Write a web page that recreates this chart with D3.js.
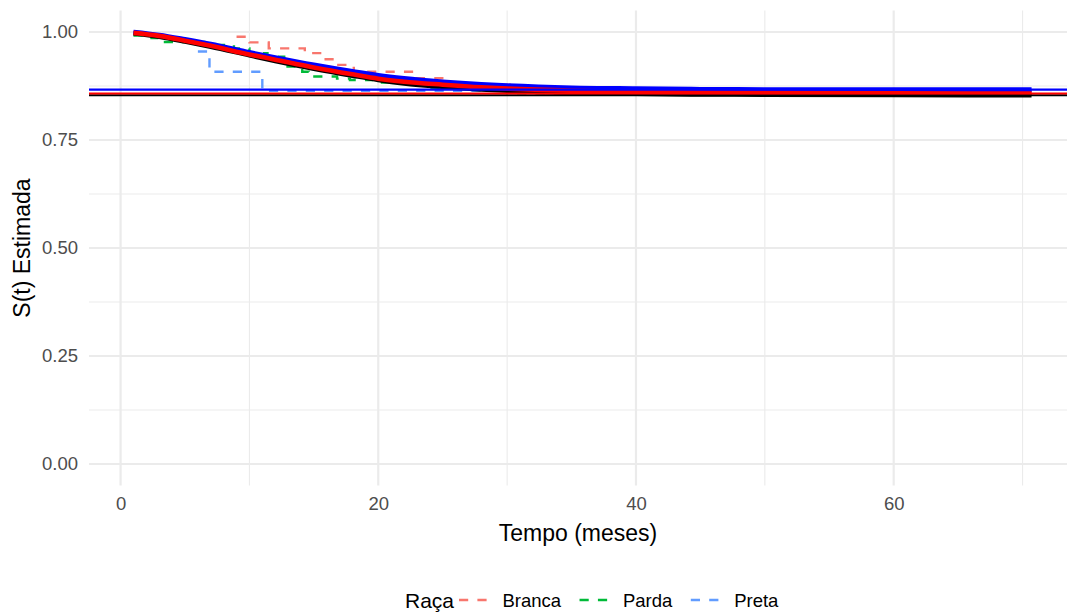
<!DOCTYPE html>
<html>
<head>
<meta charset="utf-8">
<script src="https://cdn.jsdelivr.net/npm/d3@7"></script>
<style>
  body { margin: 0; background: #fff; }
  svg text { font-family: "Liberation Sans", Arial, Helvetica, sans-serif; }
</style>
</head>
<body>
<svg id="chart" width="1072" height="615"></svg>
<script>
// axis ticks
var xTicks = [0, 20, 40, 60];
var xMinor = [10, 30, 50, 70];
var yTicks = [0, 0.25, 0.5, 0.75, 1];
var yMinor = [0.125, 0.375, 0.625, 0.875];

// Kaplan-Meier by group
var grupos = ["Branca", "Parda", "Preta"];
var coresGrupo = ["#F8766D", "#00BA38", "#619CFF"];
var tempoBranca = [9.0, 10.0, 11.5, 14.3, 15.6, 16.9, 18.1, 22.8, 25.5, 30.2, 70.7];
var survBranca  = [0.989, 0.976, 0.962, 0.951, 0.937, 0.924, 0.908, 0.893, 0.878, 0.860, 0.860];
var tempoParda = [1.0, 2.4, 3.0, 6.5, 8.8, 10.0, 11.4, 12.7, 14.1, 14.6, 16.8, 17.8, 19.6, 24.0, 30.0, 70.7];
var survParda  = [0.992, 0.986, 0.977, 0.970, 0.962, 0.951, 0.943, 0.920, 0.908, 0.897, 0.892, 0.889, 0.883, 0.870, 0.858, 0.858];
var tempoPreta = [6.0, 6.9, 11.0, 70.7];
var survPreta  = [0.955, 0.908, 0.864, 0.864];

// fitted curves
var tempoAjuste = [1, 3, 5, 7, 10, 12, 15, 18, 20, 22, 25, 28, 30, 35, 40, 45, 50, 60, 70.7];
var ajustePreto = [0.997, 0.989, 0.978, 0.966, 0.946, 0.933, 0.915, 0.899, 0.889, 0.881, 0.873, 0.867, 0.864, 0.859, 0.857, 0.8555, 0.855, 0.854, 0.8535];
var ajusteAzul  = [1.000, 0.993, 0.983, 0.972, 0.953, 0.941, 0.924, 0.909, 0.900, 0.893, 0.885, 0.879, 0.876, 0.871, 0.869, 0.8675, 0.867, 0.8667, 0.8665];
var ajusteVerm  = [0.998, 0.991, 0.980, 0.968, 0.948, 0.936, 0.918, 0.902, 0.892, 0.885, 0.878, 0.872, 0.869, 0.864, 0.861, 0.860, 0.859, 0.858, 0.8575];

// cure fraction reference lines
var platos = [0.8535, 0.8665, 0.8575];
var coresPlato = ["#000000", "#0000FF", "#FF0000"];

(function() {
    var svg = d3.select("#chart");
    var pLeft = 89, pRight = 1067, pTop = 10.4, pBottom = 485.6;

    var x = d3.scaleLinear().domain([-2.45, 73.45]).range([pLeft, pRight]);
    var y = d3.scaleLinear().domain([-0.05, 1.05]).range([pBottom, pTop]);

    // grid
    function hGrid(vals, w) {
        svg.append("g").selectAll("line").data(vals).enter().append("line")
            .attr("x1", pLeft).attr("x2", pRight)
            .attr("y1", function(d){return y(d)}).attr("y2", function(d){return y(d)})
            .attr("stroke", "#EBEBEB").attr("stroke-width", w);
    }
    function vGrid(vals, w) {
        svg.append("g").selectAll("line").data(vals).enter().append("line")
            .attr("y1", pTop).attr("y2", pBottom)
            .attr("x1", function(d){return x(d)}).attr("x2", function(d){return x(d)})
            .attr("stroke", "#EBEBEB").attr("stroke-width", w);
    }
    hGrid(yMinor, 1.1); vGrid(xMinor, 1.1);
    hGrid(yTicks, 2.2); vGrid(xTicks, 2.2);

    // axes (labels only, as in theme_minimal)
    var yAxis = svg.append("g").attr("transform", "translate(" + (pLeft - 11) + ",0)")
        .call(d3.axisLeft(y).tickValues(yTicks).tickFormat(d3.format(".2f")).tickSize(0).tickPadding(0));
    var xAxis = svg.append("g").attr("transform", "translate(0," + (pBottom + 11) + ")")
        .call(d3.axisBottom(x).tickValues(xTicks).tickSize(0).tickPadding(0));
    [xAxis, yAxis].forEach(function(a){
        a.select(".domain").remove();
        a.selectAll("text").attr("fill", "#4D4D4D").style("font-size", "18.5px")
            .style("font-family", "'Liberation Sans', Arial, sans-serif");
    });
    xAxis.selectAll("text").attr("dy", "0.71em");

    // KM steps
    var kmDados = [
        d3.zip(tempoBranca, survBranca),
        d3.zip(tempoParda, survParda),
        d3.zip(tempoPreta, survPreta)
    ];
    var passo = d3.line().x(function(d){return x(d[0])}).y(function(d){return y(d[1])}).curve(d3.curveStepAfter);
    svg.append("g").selectAll("path").data(kmDados).enter().append("path")
        .attr("d", passo)
        .attr("fill", "none")
        .attr("stroke", function(d, i){return coresGrupo[i]})
        .attr("stroke-width", 2.4)
        .attr("stroke-dasharray", "9.2,9.2");

    // fitted curves: black, blue, red on top
    var suave = d3.line().x(function(d){return x(d[0])}).y(function(d){return y(d[1])}).curve(d3.curveMonotoneX);
    var ajustes = [d3.zip(tempoAjuste, ajustePreto), d3.zip(tempoAjuste, ajusteAzul), d3.zip(tempoAjuste, ajusteVerm)];
    var coresAjuste = ["#000000", "#0000FF", "#FF0000"];
    svg.append("g").selectAll("path").data(ajustes).enter().append("path")
        .attr("d", suave)
        .attr("fill", "none")
        .attr("stroke", function(d, i){return coresAjuste[i]})
        .attr("stroke-width", 4.6);

    // plateau lines
    svg.append("g").selectAll("line").data(platos).enter().append("line")
        .attr("x1", pLeft).attr("x2", pRight)
        .attr("y1", function(d){return y(d)}).attr("y2", function(d){return y(d)})
        .attr("stroke", function(d, i){return coresPlato[i]})
        .attr("stroke-width", 2.1);

    // axis titles
    svg.append("text").attr("x", (pLeft + pRight) / 2).attr("y", 533)
        .attr("text-anchor", "middle").attr("dominant-baseline", "central")
        .style("font-size", "23px").text("Tempo (meses)");
    svg.append("text").attr("transform", "translate(22," + ((pTop + pBottom) / 2) + ") rotate(-90)")
        .attr("text-anchor", "middle").attr("dominant-baseline", "central")
        .style("font-size", "23px").text("S(t) Estimada");

    // legend
    var leg = svg.append("g");
    var ly = 600, lx = 405;
    leg.append("text").attr("x", lx).attr("y", ly).attr("dominant-baseline", "central")
        .style("font-size", "21px").text("Raça");
    lx = 459;
    grupos.forEach(function(g, i){
        leg.append("line").attr("x1", lx).attr("x2", lx + 28.4).attr("y1", ly).attr("y2", ly)
            .attr("stroke", coresGrupo[i]).attr("stroke-width", 2.4).attr("stroke-dasharray", "9.2,9.2");
        lx += 28.4 + 15;
        var t = leg.append("text").attr("x", lx).attr("y", ly).attr("dominant-baseline", "central")
            .style("font-size", "18.5px").text(g);
        lx += t.node().getComputedTextLength() + 18.5;
    });
})();
</script>
</body>
</html>
